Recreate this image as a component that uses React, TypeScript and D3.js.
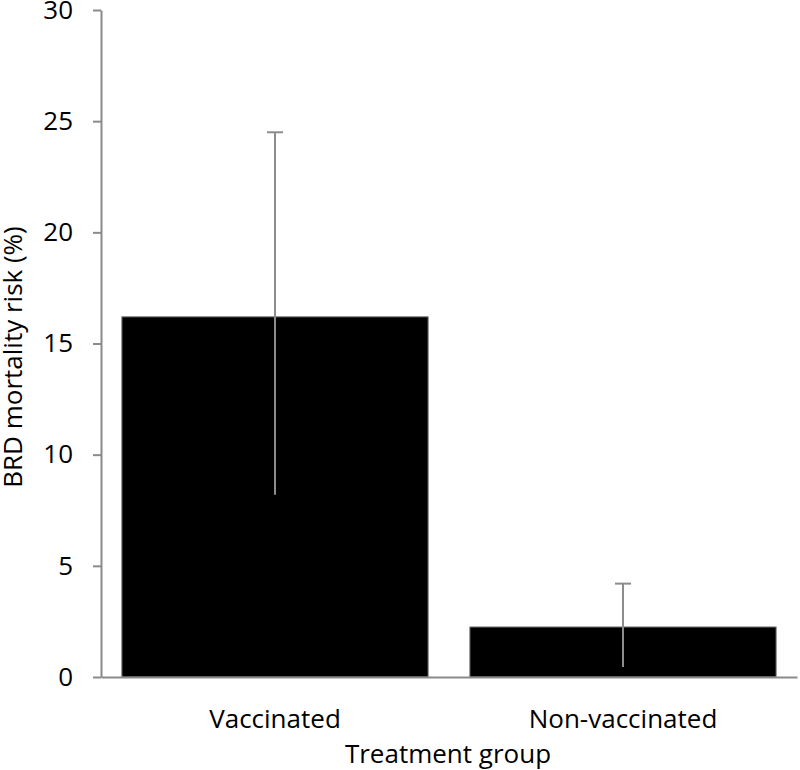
import React, { useRef, useEffect } from "react";
import * as d3 from "d3";

const groups = ["Vaccinated", "Non-vaccinated"];
const risk = [16.2, 2.25];
const errLow = [8.2, 0.45];
const errHigh = [24.5, 4.2];
const yTicks = [0, 5, 10, 15, 20, 25, 30];

const App = () => {
  const svgRef = useRef<SVGSVGElement>(null);

  useEffect(() => {
    const width = 800;
    const height = 770;
    const font = "'Open Sans', sans-serif";
    const svg = d3.select(svgRef.current);
    svg.selectAll("*").remove();
    svg.attr("width", width).attr("height", height).style("font-family", font);

    const x = d3.scaleBand().domain(groups).range([101, 797]).paddingInner(0.12).paddingOuter(0.06);
    const y = d3.scaleLinear().domain([0, 30]).range([677, 10]);
    const axisColor = "#8a8a8a";

    // bars
    svg
      .selectAll("rect.bar")
      .data(groups)
      .join("rect")
      .attr("class", "bar")
      .attr("x", (d) => x(d)!)
      .attr("width", x.bandwidth())
      .attr("y", (d, i) => y(risk[i]))
      .attr("height", (d, i) => y(0) - y(risk[i]))
      .attr("fill", "#000")
      .attr("stroke", "#777")
      .attr("stroke-width", 1);

    // error bars
    const err = svg.append("g").attr("stroke", "#8c8c8c").attr("stroke-width", 2);
    groups.forEach((g, i) => {
      const cx = x(g)! + x.bandwidth() / 2;
      err.append("line").attr("x1", cx).attr("x2", cx).attr("y1", y(errLow[i])).attr("y2", y(errHigh[i]));
      err.append("line").attr("x1", cx - 8).attr("x2", cx + 8).attr("y1", y(errHigh[i])).attr("y2", y(errHigh[i]));
    });

    // y axis
    const yAxis = svg
      .append("g")
      .attr("transform", "translate(101,0)")
      .call(d3.axisLeft(y).tickValues(yTicks).tickSize(8).tickPadding(20).tickSizeOuter(0));
    yAxis.select(".domain").attr("stroke", axisColor).attr("stroke-width", 2);
    yAxis.selectAll(".tick line").attr("stroke", axisColor).attr("stroke-width", 2);
    yAxis.selectAll(".tick text").attr("font-size", 26).attr("fill", "#000").attr("font-family", font);

    // x axis
    const xAxis = svg
      .append("g")
      .attr("transform", "translate(0,677)")
      .call(d3.axisBottom(x).tickSize(0).tickPadding(0).tickSizeOuter(0));
    xAxis.select(".domain").attr("stroke", axisColor).attr("stroke-width", 2);
    xAxis
      .selectAll(".tick text")
      .attr("font-size", 26)
      .attr("fill", "#000")
      .attr("font-family", font)
      .attr("dy", null)
      .attr("y", 51);

    svg
      .append("text")
      .attr("x", 448)
      .attr("y", 763)
      .attr("text-anchor", "middle")
      .attr("font-size", 26)
      .text("Treatment group");

    svg
      .append("text")
      .attr("transform", "translate(22,357) rotate(-90)")
      .attr("text-anchor", "middle")
      .attr("font-size", 26)
      .text("BRD mortality risk (%)");
  }, []);

  return <svg ref={svgRef} style={{ position: "absolute", left: 0, top: 0 }}></svg>;
};

export default App;
